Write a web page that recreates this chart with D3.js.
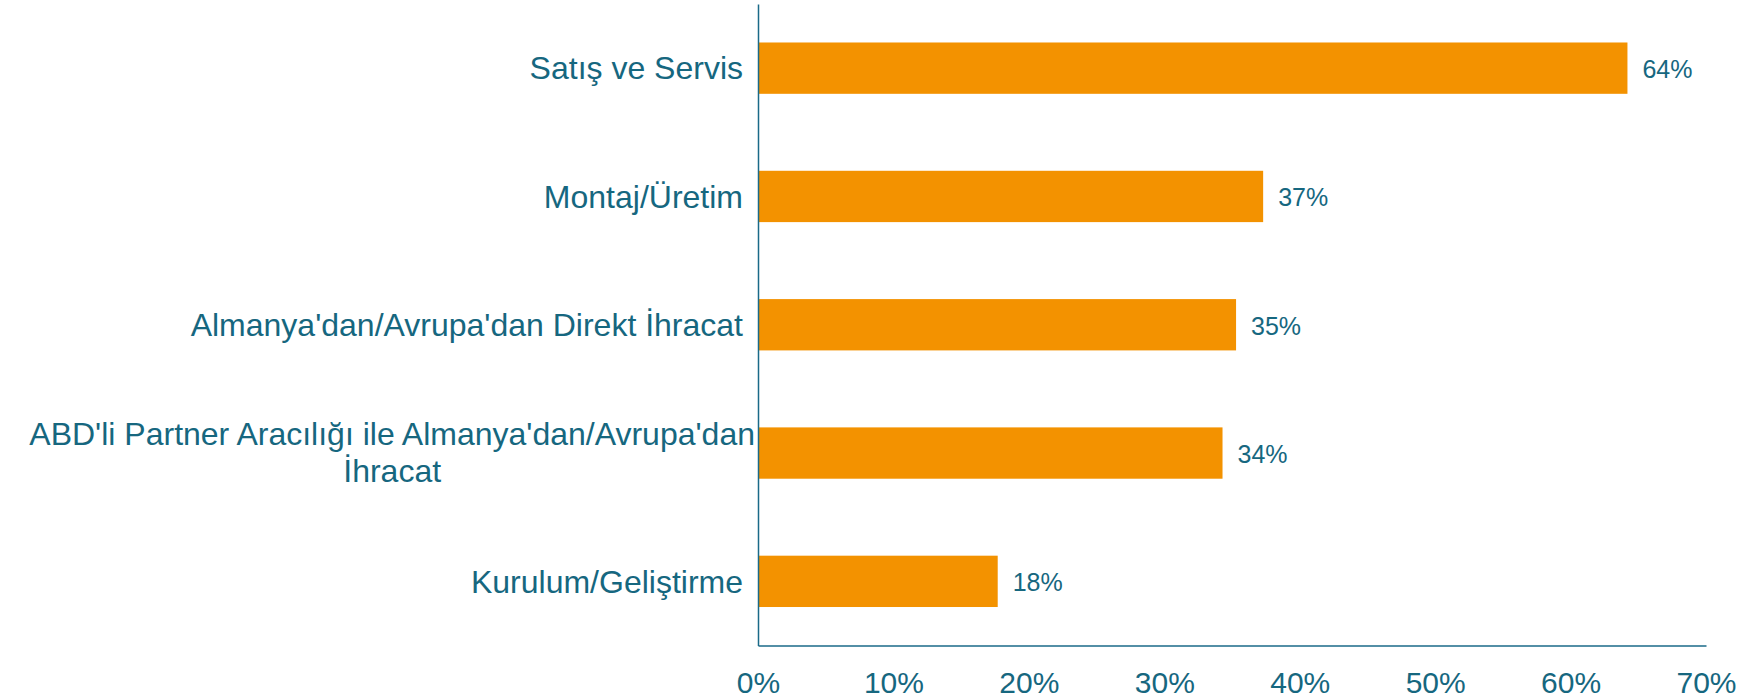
<!DOCTYPE html>
<html>
<head>
<meta charset="utf-8">
<script src="https://cdn.jsdelivr.net/npm/d3@7"></script>
<style>
  html, body { margin: 0; padding: 0; background: #ffffff; }
  svg { display: block; }
  text { font-family: "Liberation Sans", Arial, sans-serif; }
</style>
</head>
<body>
<svg id="chart" width="1747" height="700"></svg>
<script>
const categories = [
  "Satış ve Servis",
  "Montaj/Üretim",
  "Almanya'dan/Avrupa'dan Direkt İhracat",
  "ABD'li Partner Aracılığı ile Almanya'dan/Avrupa'dan\nİhracat",
  "Kurulum/Geliştirme"
];
const values = [64.2, 37.3, 35.3, 34.3, 17.7];
const tickValues = [0, 10, 20, 30, 40, 50, 60, 70];

const textColor = "#16677f";
const axisColor = "#1a6a88";
const barColor = "#f39200";

const svg = d3.select("#chart");
const margin = { left: 758, right: 1747 - 1706, top: 4, bottom: 700 - 645.5 };
const W = 1747, H = 700;

const x = d3.scaleLinear().domain([0, 70]).range([margin.left, W - margin.right]);
const y = d3.scaleBand().domain(categories).range([margin.top, H - margin.bottom])
  .paddingInner(0.6).paddingOuter(0.3);

const data = categories.map((c, i) => ({ c, v: values[i] }));

// bars
svg.append("g").selectAll("rect").data(data).join("rect")
  .attr("x", x(0))
  .attr("y", d => y(d.c))
  .attr("width", d => x(d.v) - x(0))
  .attr("height", y.bandwidth())
  .attr("fill", barColor);

// value labels
svg.append("g").selectAll("text").data(data).join("text")
  .attr("x", d => x(d.v) + 15)
  .attr("y", d => y(d.c) + y.bandwidth() / 2 + 1)
  .attr("dy", "0.35em")
  .attr("fill", textColor)
  .style("font-size", "25px")
  .text(d => Math.round(d.v) + "%");

// x axis (no ticks, just labels)
const xAxis = d3.axisBottom(x).tickValues(tickValues).tickSize(0).tickPadding(0)
  .tickFormat(d => d + "%");
const gx = svg.append("g").attr("transform", `translate(0,${H - margin.bottom})`).call(xAxis);
gx.select(".domain").attr("stroke", axisColor).attr("stroke-width", 1.5);
gx.selectAll("text").attr("fill", textColor).style("font-size", "30px")
  .style("font-family", "'Liberation Sans', Arial, sans-serif")
  .attr("y", 47).attr("dy", 0);

// y axis line
const yAxis = d3.axisLeft(y).tickSize(0).tickFormat("");
const gy = svg.append("g").attr("transform", `translate(${margin.left},0)`).call(yAxis);
gy.select(".domain").attr("stroke", axisColor).attr("stroke-width", 1.5);

// category labels
const labels = svg.append("g");
data.forEach(d => {
  const lines = d.c.split("\n");
  const cy = y(d.c) + y.bandwidth() / 2;
  const t = labels.append("text")
    .attr("fill", textColor)
    .style("font-size", "32px");
  const lh = 37;
  if (lines.length === 1) {
    t.attr("text-anchor", "end").attr("x", margin.left - 15).attr("y", cy).attr("dy", "0.35em").text(lines[0]);
  } else {
    const spans = lines.map((l, i) => t.append("tspan")
      .attr("text-anchor", "middle")
      .attr("y", cy - 1 + (i - (lines.length - 1) / 2) * lh)
      .attr("dy", "0.35em")
      .text(l));
    const maxW = d3.max(spans, s => s.node().getComputedTextLength());
    const cx = margin.left - 3 - maxW / 2;
    spans.forEach(s => s.attr("x", cx));
  }
});
</script>
</body>
</html>
